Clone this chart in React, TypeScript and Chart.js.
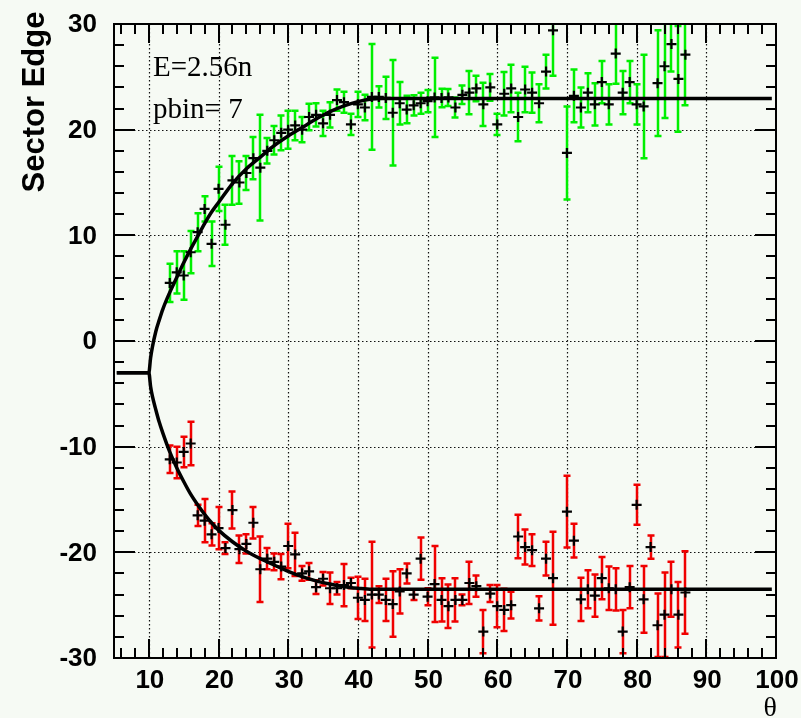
import React, { useEffect, useRef } from "react";
import { Chart, registerables } from "chart.js";

Chart.register(...registerables);

// ---------- data ----------
const thetaGreen = [
  13, 14, 15, 16, 17, 18, 19, 20, 21, 22, 23, 24, 25, 26, 27, 28, 29, 30, 31, 32, 33, 34, 35, 36, 37, 38, 39, 40,
  41, 42, 43, 44, 45, 46, 47, 48, 49, 50, 51, 52, 53, 54, 55, 56, 57, 58, 59, 60, 61, 62, 63, 64, 65, 66, 67, 68,
  70, 71, 72, 73, 74, 75, 76, 77, 78, 79, 80, 81, 83, 84, 85, 86, 87,
];
const greenValues = [
  5.5, 6.5, 6.2, 8.4, 10.3, 12.5, 9.2, 14.4, 11.0, 15.2, 15.0, 15.9, 17.3, 16.4, 18.0, 19.0, 19.7, 20.0, 20.4, 20.0,
  21.2, 21.4, 20.6, 21.4, 22.8, 22.6, 20.5, 22.4, 22.1, 23.1, 23.1, 23.0, 21.6, 22.5, 21.9, 22.3, 22.5, 22.7, 23.05,
  23.0, 23.05, 22.1, 23.3, 23.5, 23.9, 22.4, 24.0, 20.5, 23.4, 23.9, 21.2, 23.8, 23.5, 22.5, 25.5, 29.4, 17.8, 23.2,
  22.1, 23.5, 22.4, 24.5, 22.4, 27.2, 23.5, 24.5, 22.4, 22.2, 24.4, 26.0, 28.1, 24.8, 27.1,
];
const greenErrors = [
  1.8, 2.0, 2.3, 2.0, 1.8, 1.2, 2.1, 2.1, 1.9, 2.3, 2.0, 1.6, 2.0, 5.0, 1.2, 1.35, 1.65, 1.8, 1.4, 1.2, 1.26, 1.1, 1.2,
  1.2, 1.0, 1.0, 1.0, 1.2, 1.2, 5.0, 1.0, 2.0, 5.0, 2.0, 1.3, 0.95, 1.0, 1.05, 3.75, 0.87, 0.8, 0.95, 0.87, 2.05, 1.2,
  2.05, 1.26, 1.0, 2.05, 2.24, 2.3, 2.16, 1.9, 1.8, 1.6, 4.3, 4.4, 2.5, 1.9, 1.85, 2.0, 2.0, 1.9, 2.85, 2.05, 2.0, 1.9,
  4.9, 5.0, 4.9, 2.6, 5.0, 4.8,
];

const thetaRed = [
  13, 14, 15, 16, 17, 18, 19, 20, 21, 22, 23, 24, 25, 26, 27, 28, 29, 30, 31, 32, 33, 34, 35, 36, 37, 38, 39, 40,
  41, 42, 43, 44, 45, 46, 47, 48, 49, 50, 51, 52, 53, 54, 55, 56, 57, 58, 59, 60, 61, 62, 63, 64, 65, 66, 67, 68,
  70, 71, 72, 73, 74, 75, 76, 77, 78, 79, 80, 81, 82, 83, 84, 85, 86, 87,
];
const redValues = [
  -11.2, -11.5, -10.5, -9.7, -16.5, -17.0, -18.3, -17.7, -19.6, -16.0, -19.7, -19.2, -17.2, -21.6, -20.6, -20.9,
  -21.35, -19.4, -20.2, -22.0, -21.8, -23.3, -22.5, -23.4, -23.4, -23.1, -22.9, -24.3, -24.5, -24.0, -24.0, -24.5,
  -24.9, -23.7, -22.0, -24.0, -20.6, -24.2, -23.0, -24.5, -25.1, -24.5, -24.5, -22.9, -23.2, -27.5, -23.9, -25.1,
  -25.45, -25.0, -18.5, -19.5, -19.8, -25.3, -20.6, -22.45, -16.15, -18.9, -24.45, -23.5, -24.1, -22.45, -23.4,
  -23.5, -27.5, -23.3, -15.5, -24.45, -19.5, -26.9, -25.9, -23.5, -25.9, -23.8,
];
const redErrors = [
  1.3, 1.5, 1.45, 2.05, 1.0, 2.05, 1.05, 2.0, 0.55, 1.75, 1.3, 0.9, 1.5, 3.1, 1.0, 0.8, 1.2, 2.1, 2.05, 0.7, 0.8, 0.65,
  0.65, 1.5, 0.6, 2.0, 0.5, 2.0, 2.0, 5.0, 0.8, 2.0, 3.1, 2.1, 0.95, 0.5, 2.0, 0.8, 3.6, 2.05, 2.05, 2.05, 0.5, 2.0,
  1.0, 2.05, 0.8, 2.0, 2.0, 1.26, 2.05, 1.65, 1.5, 1.15, 1.6, 4.4, 3.4, 1.6, 2.05, 1.8, 2.0, 2.0, 2.05, 2.0, 2.05, 2.0,
  1.9, 3.15, 1.1, 3.0, 4.0, 2.6, 3.1, 3.9,
];

const upperFitTheta = [
  5.4, 10, 10.25, 10.5, 11, 11.5, 12, 13, 14, 15, 16, 17, 18, 19, 20, 22, 24, 26, 28, 30, 32, 34, 36, 38, 40, 42, 43.5,
  99.4,
];
const upperFitValues = [
  -3, -3, -1.6, -0.6, 0.9, 2.0, 3.0, 4.6, 6.0, 7.4, 8.7, 9.9, 11.1, 12.2, 13.1, 14.9, 16.3, 17.4, 18.5, 19.4, 20.2,
  21.0, 21.7, 22.25, 22.65, 22.9, 22.95, 22.95,
];
const lowerFitTheta = [
  5.4, 10, 10.25, 10.5, 11, 11.5, 12, 13, 14, 15, 16, 17, 18, 19, 20, 22, 24, 26, 28, 30, 32, 34, 36, 38, 40, 42, 99.4,
];
const lowerFitValues = [
  -3, -3, -4.3, -5.2, -6.5, -7.7, -8.7, -10.5, -12.0, -13.3, -14.5, -15.5, -16.4, -17.2, -17.9, -19.0, -19.9, -20.6,
  -21.2, -21.8, -22.3, -22.7, -23.0, -23.25, -23.4, -23.5, -23.5,
];

const xMajorTicks = [10, 20, 30, 40, 50, 60, 70, 80, 90, 100];
const xTickLabels = ["10", "20", "30", "40", "50", "60", "70", "80", "90", "100"];
const yMajorTicks = [-30, -20, -10, 0, 10, 20, 30];
const yTickLabels = ["-30", "-20", "-10", "0", "10", "20", "30"];
const xAxisTitle = "θ";
const yAxisTitle = "Sector Edge";
const infoLines = ["E=2.56n", "pbin= 7"];

const X_MIN = 5;
const X_MAX = 100;
const Y_MIN = -30;
const Y_MAX = 30;
const MINOR_STEP = 2;

const GREEN = "#00f000";
const RED = "#f00000";
const BG = "#f6faf4";

const W = 801;
const H = 718;

function drawErrorBars(chart: any, xs: number[], vs: number[], es: number[], color: string) {
  const ctx = chart.ctx;
  const sx = chart.scales.x;
  const sy = chart.scales.y;
  ctx.save();
  ctx.strokeStyle = color;
  ctx.lineWidth = 2.5;
  for (let i = 0; i < xs.length; i++) {
    const px = Math.round(sx.getPixelForValue(xs[i]));
    const top = sy.getPixelForValue(vs[i] + es[i]);
    const bot = sy.getPixelForValue(vs[i] - es[i]);
    ctx.beginPath();
    ctx.moveTo(px, top);
    ctx.lineTo(px, bot);
    ctx.moveTo(px - 3.5, top);
    ctx.lineTo(px + 3.5, top);
    ctx.moveTo(px - 3.5, bot);
    ctx.lineTo(px + 3.5, bot);
    ctx.stroke();
  }
  ctx.restore();
}

const rootStylePlugin = {
  id: "rootStyle",
  beforeDraw(chart: any) {
    const ctx = chart.ctx;
    ctx.save();
    ctx.fillStyle = BG;
    ctx.fillRect(0, 0, chart.width, chart.height);
    ctx.restore();
  },
  beforeDatasetsDraw(chart: any) {
    const ctx = chart.ctx;
    const a = chart.chartArea;
    const sx = chart.scales.x;
    const sy = chart.scales.y;
    ctx.save();
    ctx.strokeStyle = "#111";
    ctx.lineWidth = 1.2;
    ctx.setLineDash([1.5, 2.5]);
    ctx.beginPath();
    for (const v of xMajorTicks) {
      if (v <= X_MIN || v >= X_MAX) continue;
      const p = Math.round(sx.getPixelForValue(v)) + 0.5;
      ctx.moveTo(p, a.top);
      ctx.lineTo(p, a.bottom);
    }
    for (const v of yMajorTicks) {
      if (v <= Y_MIN || v >= Y_MAX) continue;
      const p = Math.round(sy.getPixelForValue(v)) + 0.5;
      ctx.moveTo(a.left, p);
      ctx.lineTo(a.right, p);
    }
    ctx.stroke();
    ctx.restore();

    ctx.save();
    ctx.beginPath();
    ctx.rect(a.left, a.top, a.right - a.left, a.bottom - a.top);
    ctx.clip();
    drawErrorBars(chart, thetaGreen, greenValues, greenErrors, GREEN);
    drawErrorBars(chart, thetaRed, redValues, redErrors, RED);
    ctx.restore();
  },
  afterDatasetsDraw(chart: any) {
    const ctx = chart.ctx;
    const a = chart.chartArea;
    const sx = chart.scales.x;
    const sy = chart.scales.y;
    ctx.save();
    ctx.strokeStyle = "#000";
    ctx.lineWidth = 2;
    ctx.beginPath();
    for (let v = X_MIN + 1; v < X_MAX; v += MINOR_STEP) {
      const major = xMajorTicks.includes(v);
      const len = major ? 19 : 10;
      const p = Math.round(sx.getPixelForValue(v));
      ctx.moveTo(p, a.bottom);
      ctx.lineTo(p, a.bottom - len);
      ctx.moveTo(p, a.top);
      ctx.lineTo(p, a.top + len);
    }
    for (let v = Y_MIN + MINOR_STEP; v < Y_MAX; v += MINOR_STEP) {
      const major = yMajorTicks.includes(v);
      const len = major ? 21 : 10;
      const p = Math.round(sy.getPixelForValue(v));
      ctx.moveTo(a.left, p);
      ctx.lineTo(a.left + len, p);
      ctx.moveTo(a.right, p);
      ctx.lineTo(a.right - len, p);
    }
    ctx.stroke();
    ctx.lineWidth = 2;
    ctx.strokeRect(a.left, a.top, a.right - a.left, a.bottom - a.top);
    ctx.restore();
  },
  afterDraw(chart: any) {
    const ctx = chart.ctx;
    const a = chart.chartArea;
    const sx = chart.scales.x;
    const sy = chart.scales.y;
    ctx.save();
    ctx.fillStyle = "#000";
    ctx.font = 'bold 26px "Liberation Sans", Arial, sans-serif';
    ctx.textAlign = "right";
    ctx.textBaseline = "middle";
    yMajorTicks.forEach((v, i) => {
      ctx.fillText(yTickLabels[i], a.left - 17, sy.getPixelForValue(v) + 1);
    });
    ctx.textAlign = "center";
    xMajorTicks.forEach((v, i) => {
      ctx.fillText(xTickLabels[i], sx.getPixelForValue(v) + 1, a.bottom + 23);
    });
    ctx.font = '28px "Liberation Serif", "Times New Roman", serif';
    ctx.textAlign = "right";
    ctx.textBaseline = "alphabetic";
    ctx.fillText(xAxisTitle, a.right + 1, H - 2);
    ctx.save();
    ctx.translate(35, 102);
    ctx.rotate(-Math.PI / 2);
    ctx.font = 'bold 31px "Liberation Sans", Arial, sans-serif';
    ctx.textAlign = "center";
    ctx.textBaseline = "middle";
    ctx.fillText(yAxisTitle, 0, 0);
    ctx.restore();
    ctx.font = '29px "Liberation Serif", "Times New Roman", serif';
    ctx.textAlign = "left";
    ctx.textBaseline = "alphabetic";
    ctx.fillText(infoLines[0], 153, 76);
    ctx.fillText(infoLines[1], 153, 118);
    ctx.restore();
  },
};

export default function App() {
  const canvasRef = useRef<HTMLCanvasElement | null>(null);

  useEffect(() => {
    if (!canvasRef.current) return;
    const markerStyle = {
      pointStyle: "cross",
      pointRadius: 5,
      borderColor: "#000",
      backgroundColor: "#000",
      borderWidth: 2.2,
      showLine: false,
    };
    const chart = new Chart(canvasRef.current, {
      type: "scatter",
      data: {
        datasets: [
          {
            label: "green",
            data: thetaGreen.map((t, i) => ({ x: t, y: greenValues[i] })),
            ...markerStyle,
          } as any,
          {
            label: "red",
            data: thetaRed.map((t, i) => ({ x: t, y: redValues[i] })),
            ...markerStyle,
          } as any,
          {
            label: "upper fit",
            data: upperFitTheta.map((t, i) => ({ x: t, y: upperFitValues[i] })),
            showLine: true,
            pointRadius: 0,
            borderColor: "#000",
            borderWidth: 3.5,
            cubicInterpolationMode: "monotone",
          } as any,
          {
            label: "lower fit",
            data: lowerFitTheta.map((t, i) => ({ x: t, y: lowerFitValues[i] })),
            showLine: true,
            pointRadius: 0,
            borderColor: "#000",
            borderWidth: 3.5,
            cubicInterpolationMode: "monotone",
          } as any,
        ],
      },
      options: {
        responsive: false,
        animation: false,
        devicePixelRatio: 1,
        layout: { padding: { left: 114, right: W - 776, top: 24, bottom: H - 658 } },
        scales: {
          x: { type: "linear", min: X_MIN, max: X_MAX, display: false },
          y: { type: "linear", min: Y_MIN, max: Y_MAX, display: false },
        },
        plugins: { legend: { display: false }, tooltip: { enabled: false } },
        events: [],
      },
      plugins: [rootStylePlugin],
    });
    return () => chart.destroy();
  }, []);

  return (
    <div style={{ position: "absolute", left: 0, top: 0, width: W, height: H }}>
      <canvas ref={canvasRef} width={W} height={H} style={{ display: "block" }} />
    </div>
  );
}
